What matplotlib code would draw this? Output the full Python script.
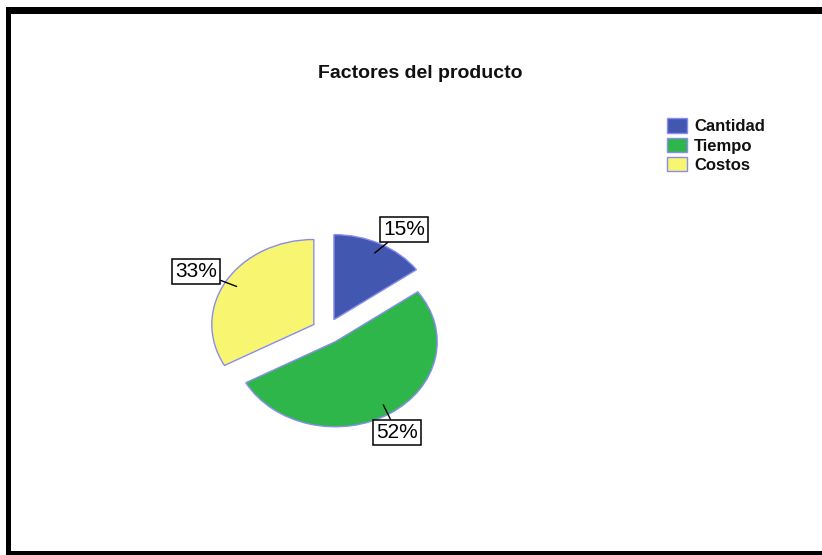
import matplotlib
matplotlib.use("Agg")
import matplotlib.pyplot as plt
from matplotlib.patches import Rectangle
import numpy as np

plt.rcParams['font.family'] = ['Liberation Sans', 'DejaVu Sans']

# Data
categories = ["Cantidad", "Tiempo", "Costos"]
percentages = [15, 52, 33]
colors = ["#4157b0", "#2fb64a", "#f8f571"]

W, H = 822, 555
fig = plt.figure(figsize=(W / 100, H / 100), dpi=100)
fig.patch.set_facecolor("white")

def px_rect(x0, y0, x1, y1, **kw):
    """Rectangle in pixel coords measured from top-left."""
    fig.add_artist(Rectangle((x0 / W, 1 - y1 / H), (x1 - x0) / W, (y1 - y0) / H,
                             transform=fig.transFigure, **kw))

# Black frame (top, left, bottom)
px_rect(6, 7, W, 14, facecolor="black", edgecolor="none")
px_rect(6, 7, 11, H, facecolor="black", edgecolor="none")
px_rect(6, 551, W, H, facecolor="black", edgecolor="none")

# Pie axes: centre at (327, 331) px, radius 102 px horizontally, 85 px vertically
cx, cy, rx, ry = 327, 331, 102, 85
lim = 1.5
ax = fig.add_axes([(cx - lim * rx) / W, (H - cy - lim * ry) / H,
                   2 * lim * rx / W, 2 * lim * ry / H])
explode = [0.15] * len(percentages)
wedges, _ = ax.pie(percentages, colors=colors, explode=explode, startangle=90,
                   counterclock=False,
                   wedgeprops=dict(edgecolor="#8a8cf0", linewidth=1.0))
ax.set_aspect("auto")
ax.set_xlim(-lim, lim)
ax.set_ylim(-lim, lim)
ax.axis("off")

# Value labels in boxes with leader lines
label_offsets = [(21, 17), (10, -20), (-29, 11)]  # points, relative to leader start
for w, pct, off in zip(wedges, percentages, label_offsets):
    ang = np.deg2rad((w.theta1 + w.theta2) / 2)
    xy = (1.03 * np.cos(ang), 1.03 * np.sin(ang))
    ax.annotate(f"{pct}%", xy=xy, xytext=off, textcoords="offset points",
                ha="center", va="center", fontsize=15, color="black",
                bbox=dict(boxstyle="square,pad=0.15", facecolor="white",
                          edgecolor="black", linewidth=1.1),
                arrowprops=dict(arrowstyle="-", color="black", lw=1.0,
                                shrinkA=0, shrinkB=0))

# Title
fig.text(420 / W, 1 - 73 / H, "Factores del producto", ha="center", va="center",
         fontsize=14, fontweight="bold", color="#111111")

# Legend
leg = fig.legend(wedges, categories, loc="upper left",
                 bbox_to_anchor=(664 / W, 1 - 115 / H), frameon=False,
                 prop=dict(size=12, weight="bold"), handlelength=1.2,
                 handleheight=0.95, handletextpad=0.4, labelspacing=0.2,
                 borderpad=0.2, borderaxespad=0)
for t in leg.get_texts():
    t.set_color("#111111")

fig.savefig("out.png", dpi=100, facecolor="white")
